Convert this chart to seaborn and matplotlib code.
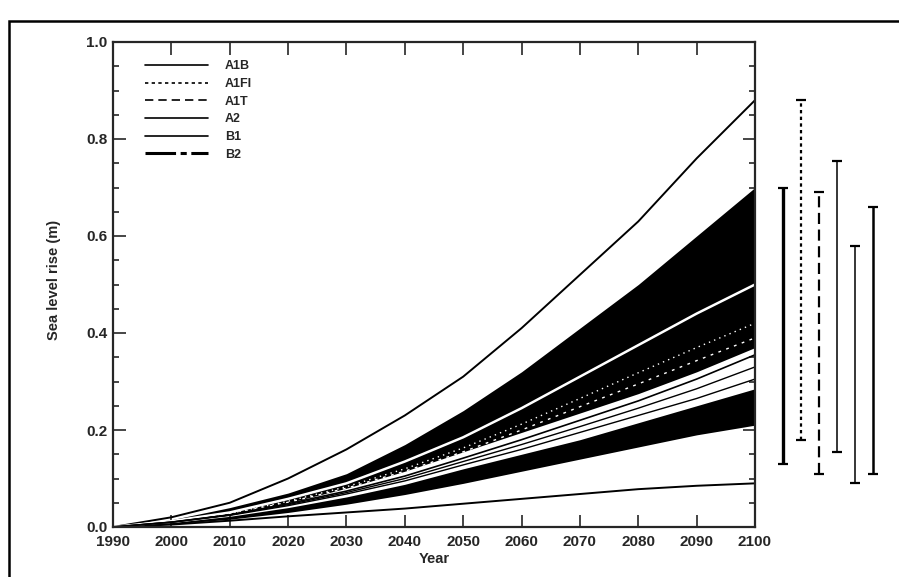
import numpy as np
import pandas as pd
import matplotlib.pyplot as plt
import seaborn as sns
from matplotlib.lines import Line2D
from matplotlib.patches import Rectangle
from matplotlib.ticker import MultipleLocator

# --- data (metres of sea level rise) ---
years = [1990, 2000, 2010, 2020, 2030, 2040, 2050, 2060, 2070, 2080, 2090, 2100]

# outermost envelope (all models, all scenarios, incl. land ice)
envelope_hi = [0, 0.020, 0.050, 0.100, 0.160, 0.230, 0.310, 0.410, 0.520, 0.630, 0.760, 0.880]
envelope_lo = [0, 0.005, 0.013, 0.022, 0.030, 0.038, 0.048, 0.058, 0.068, 0.078, 0.085, 0.090]

# dark shaded model range, upper and lower parts
band_up_hi = [0, 0.015, 0.040, 0.070, 0.110, 0.170, 0.240, 0.320, 0.410, 0.500, 0.600, 0.700]
band_up_lo = [0, 0.010, 0.025, 0.050, 0.080, 0.115, 0.155, 0.195, 0.235, 0.275, 0.320, 0.370]
band_dn_hi = [0, 0.009, 0.022, 0.040, 0.062, 0.088, 0.120, 0.150, 0.180, 0.215, 0.250, 0.285]
band_dn_lo = [0, 0.006, 0.016, 0.030, 0.047, 0.067, 0.090, 0.115, 0.140, 0.165, 0.190, 0.210]

# scenario averages
scen_A1FI = [0, 0.012, 0.030, 0.058, 0.090, 0.135, 0.185, 0.245, 0.310, 0.375, 0.440, 0.500]
scen_A2 = [0, 0.011, 0.028, 0.053, 0.083, 0.120, 0.163, 0.212, 0.265, 0.318, 0.370, 0.420]
scen_A1B = [0, 0.011, 0.027, 0.051, 0.080, 0.115, 0.155, 0.200, 0.248, 0.295, 0.343, 0.390]
scen_B2 = [0, 0.010, 0.025, 0.048, 0.074, 0.105, 0.142, 0.180, 0.220, 0.260, 0.305, 0.355]
scen_A1T = [0, 0.010, 0.025, 0.046, 0.071, 0.100, 0.135, 0.170, 0.207, 0.245, 0.285, 0.330]
scen_B1 = [0, 0.010, 0.024, 0.044, 0.068, 0.095, 0.128, 0.160, 0.195, 0.230, 0.265, 0.305]

# 2100 ranges shown as bars at the right
bar_names = ['A1B', 'A1FI', 'A1T', 'A2', 'B1', 'B2']
bar_lo = [0.13, 0.18, 0.11, 0.155, 0.09, 0.11]
bar_hi = [0.70, 0.88, 0.69, 0.755, 0.58, 0.66]

# --- style ---
sns.set_style("ticks")
plt.rcParams['font.family'] = ['Liberation Sans', 'DejaVu Sans']
plt.rcParams['font.weight'] = 'bold'

W, H = 899, 577
fig = plt.figure(figsize=(W / 100, H / 100), dpi=100)
ax = fig.add_axes([113 / W, 1 - 527 / H, 642 / W, 485 / H])
ax2 = fig.add_axes([774 / W, 1 - 527 / H, 108 / W, 485 / H])

# outer frame of the scanned figure
fig.add_artist(Rectangle((9 / W, -0.1), 1.2, 1.1 - 21 / H, transform=fig.transFigure,
                         fill=False, lw=1.8, color='black'))

# shaded ranges
ax.fill_between(years, band_up_lo, band_up_hi, color='black', lw=0)
ax.fill_between(years, band_dn_lo, band_dn_hi, color='black', lw=0)

# envelope lines
env = pd.DataFrame({'year': years * 2,
                    'rise': envelope_hi + envelope_lo,
                    'edge': ['hi'] * len(years) + ['lo'] * len(years)})
sns.lineplot(data=env, x='year', y='rise', units='edge', estimator=None,
             color='black', lw=1.4, ax=ax, legend=False)

# scenario averages: white where they sit in the dark band, black in the gap
sns.lineplot(x=years, y=scen_A1FI, color='white', lw=1.8, ax=ax)
sns.lineplot(x=years, y=scen_A2, color='white', lw=1.0, ls=(0, (1, 3)), ax=ax)
sns.lineplot(x=years, y=scen_A1B, color='white', lw=1.0, ls=(0, (2, 4)), ax=ax)
sns.lineplot(x=years, y=scen_B2, color='black', lw=1.2, ax=ax)
sns.lineplot(x=years, y=scen_A1T, color='black', lw=1.0, ax=ax)
sns.lineplot(x=years, y=scen_B1, color='black', lw=1.0, ax=ax)

ax.set_xlim(1990, 2100)
ax.set_ylim(0, 1.0)
ax.xaxis.set_major_locator(MultipleLocator(10))
ax.yaxis.set_major_locator(MultipleLocator(0.2))
ax.yaxis.set_minor_locator(MultipleLocator(0.05))
ax.yaxis.set_major_formatter(plt.FormatStrFormatter('%.1f'))
ax.tick_params(axis='both', which='both', direction='in', top=True, right=True,
               width=1.2, labelsize=11)
ax.tick_params(axis='both', which='major', length=9)
ax.tick_params(axis='y', which='minor', length=4)
ax.tick_params(axis='x', pad=6)
ax.tick_params(axis='y', pad=4)
for s in ax.spines.values():
    s.set_linewidth(1.6)
ax.set_xlabel('Year', fontsize=10.5, fontweight='bold', labelpad=2)
ax.set_ylabel('Sea level rise (m)', fontsize=10.5, fontweight='bold')
ax.yaxis.set_label_coords(-0.081, 0.51)

# legend
styles = {
    'A1B': dict(ls='-', lw=1.2),
    'A1FI': dict(ls=(0, (2, 2)), lw=1.2),
    'A1T': dict(ls=(0, (5, 3)), lw=1.2),
    'A2': dict(ls='-', lw=1.2),
    'B1': dict(ls='-', lw=1.2),
    'B2': dict(ls=(0, (10, 1.5, 2, 1.5)), lw=2.2),
}
handles = [Line2D([], [], color='black', **styles[n]) for n in bar_names]
ax.legend(handles, bar_names, loc='upper left', bbox_to_anchor=(0.05, 0.962),
          frameon=False, fontsize=9, handlelength=5.0, handletextpad=1.4,
          labelspacing=0.45, borderpad=0, borderaxespad=0)

# range bars for 2100
bar_style = {
    'A1B': dict(ls='-', lw=2.4),
    'A1FI': dict(ls=(0, (1.5, 1.5)), lw=1.6),
    'A1T': dict(ls=(0, (5, 2.5)), lw=1.6),
    'A2': dict(ls='-', lw=1.1),
    'B1': dict(ls='-', lw=1.1),
    'B2': dict(ls='-', lw=1.8),
}
xs = np.arange(len(bar_names))
for x, n, lo, hi in zip(xs, bar_names, bar_lo, bar_hi):
    ax2.vlines(x, lo, hi, color='black', **bar_style[n])
    ax2.hlines([lo, hi], x - 0.3, x + 0.3, color='black', lw=1.6)
ax2.set_xlim(-0.5, len(bar_names) - 0.5)
ax2.set_ylim(0, 1.0)
ax2.axis('off')

fig.savefig('out.png', dpi=100)
